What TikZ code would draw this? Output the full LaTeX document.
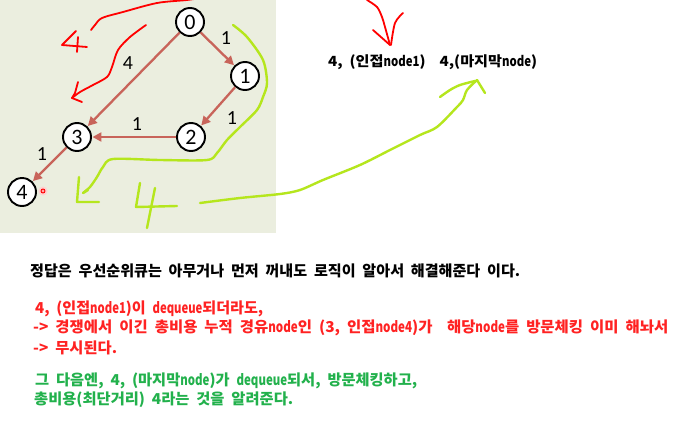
\documentclass[tikz,border=0pt]{standalone}
\usepackage{fontspec}
\usepackage{graphicx}
\setmainfont{Carlito}
\newfontfamily\kr{Noto Sans CJK KR}
\usetikzlibrary{arrows.meta}
\definecolor{panel}{HTML}{EBEEDF}
\definecolor{edgec}{HTML}{C8645A}
\definecolor{lime}{HTML}{B5E61D}
\definecolor{txtred}{HTML}{FF2222}
\definecolor{txtgreen}{HTML}{22B14C}
\newcommand{\krfont}{\kr\bfseries\fontsize{15}{15}\selectfont\spaceskip 0.45em\relax}
\newcommand{\krsmall}{\kr\bfseries\fontsize{14}{14}\selectfont\spaceskip 0.45em\relax}
\newcommand{\nar}[1]{\scalebox{0.75}[1]{#1}}
\newcommand{\fitw}[2]{\resizebox{#1}{\height}{#2}}
\tikzset{
  vert/.style={circle,draw=black,fill=white,line width=1.9pt,minimum size=28pt,inner sep=0pt,font=\fontsize{22}{22}\selectfont},
  wedge/.style={draw=edgec,line width=2.3pt,-{Triangle[length=9pt,width=9pt]},shorten >=0.5pt},
  wlabel/.style={font=\fontsize{20}{20}\selectfont,inner sep=0pt},
  redink/.style={draw=red,line width=1.8pt,line cap=round,line join=round},
  limeink/.style={draw=lime,line width=2.4pt,line cap=round,line join=round},
  krtext/.style={anchor=west,inner sep=0pt,font=\krfont}
}
\begin{document}
\begin{tikzpicture}[x=1pt,y=-1pt]
\useasboundingbox (0,0) rectangle (684,423);
\fill[white] (0,0) rectangle (684,423);
\fill[panel] (0,0) rectangle (276,233);

% hand drawn red strokes
\draw[redink] plot[smooth] coordinates {(91,30) (95,25) (102,18) (123,12) (157,3) (187,0) (200,-2)};
\draw[redink] (76,31) -- (62,45) -- (87,47);
\draw[redink] (78,37) -- (77,52);
\draw[redink] plot[smooth] coordinates {(146,25) (130,37) (118,50) (112,67) (107,77) (93,85) (80,92) (72,98)};
\draw[redink] (78,82) -- (75,93) -- (72,98) -- (82,102);
\draw[redink] plot[smooth] coordinates {(367,0) (377,7) (382,17) (385,27) (390,45)};
\draw[redink] (373,30) -- (390,45);
\draw[redink] plot[smooth] coordinates {(403,13) (395,23) (391,45)};

% hand drawn lime strokes
\draw[limeink] plot[smooth] coordinates {(233,25) (247,37) (263,60) (267,83) (263,97) (257,110) (240,127) (227,140) (217,153) (207,160) (160,160) (113,159) (103,167) (97,177) (90,187) (83,193) (88,190)};
\draw[limeink] (79,177) -- (77,202) -- (99,202);
\draw[limeink] (140,183) -- (136,207) -- (177,206);
\draw[limeink] (155,188) -- (147,228);
\draw[limeink] plot[smooth] coordinates {(200,203) (240,198) (280,194) (300,190) (323,180) (360,165) (390,150) (420,135) (437,127) (457,107) (463,100) (467,90) (477,80)};
\draw[limeink] plot[smooth] coordinates {(440,97) (450,90) (460,85) (475,81)};
\draw[limeink] (477,80) -- (485,93);

% graph
\node[vert] (n0) at (190,22) {0};
\node[vert] (n1) at (245,76) {1};
\node[vert] (n2) at (191,137) {2};
\node[vert] (n3) at (77,137) {3};
\node[vert] (n4) at (22,192) {4};
\draw[wedge] (n0) -- (n1);
\draw[wedge] (n0) -- (n3);
\draw[wedge] (n1) -- (n2);
\draw[wedge] (n2) -- (n3);
\draw[wedge] (n3) -- (n4);
\node[wlabel] (l01) at (226,38) {1};
\node[wlabel] (l03) at (128,63) {4};
\node[wlabel] (l12) at (232,118) {1};
\node[wlabel] (l23) at (137,124) {1};
\node[wlabel] (l34) at (42,154) {1};

% red dot
\fill[red!18] (43,191) circle (4.5pt);
\draw[red,line width=0.9pt,fill=red!35] (43,191) circle (2pt);

% texts
\node[krtext,text=black,font=\krsmall] (t0) at (328,62) {\fitw{209pt}{4, (인접\nar{node1})\hspace{13pt}4,(마지막\nar{node})}};
\node[krtext,text=black] (t1) at (30,271) {\fitw{490pt}{정답은 우선순위큐는 아무거나 먼저 꺼내도 로직이 알아서 해결해준다 이다.}};
\node[krtext,text=txtred] (t2) at (35,309) {\fitw{228pt}{4, (인접\nar{node1})이 \nar{dequeue}되더라도,}};
\node[krtext,text=txtred] (t3) at (33,328) {\fitw{635pt}{-> 경쟁에서 이긴 총비용 누적 경유\nar{node}인 (3, 인접\nar{node4})가\hspace{14pt}해당\nar{node}를 방문체킹 이미 해놔서}};
\node[krtext,text=txtred] (t4) at (33,348) {\fitw{84pt}{-> 무시된다.}};
\node[krtext,text=txtgreen] (t5) at (35,381) {\fitw{382pt}{그 다음엔, 4, (마지막\nar{node})가 \nar{dequeue}되서, 방문체킹하고,}};
\node[krtext,text=txtgreen] (t6) at (34,400) {\fitw{259pt}{총비용(최단거리) 4라는 것을 알려준다.}};
\end{tikzpicture}
\end{document}
